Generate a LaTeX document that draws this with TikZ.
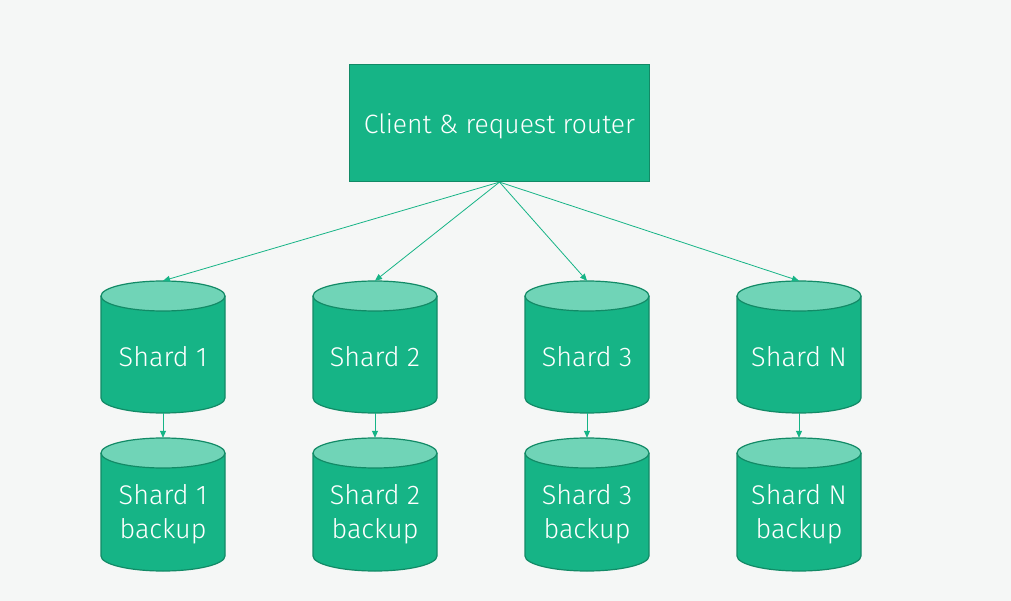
\documentclass[tikz,border=0pt]{standalone}
\usepackage{fontspec}
\setmainfont{Fira Sans Light}
\usetikzlibrary{arrows.meta}
\definecolor{bg}{HTML}{F5F7F6}
\definecolor{fillg}{HTML}{16B486}
\definecolor{endg}{HTML}{70D4B7}
\definecolor{edgeg}{HTML}{128A66}
\newcommand{\dbshape}[3]{% x, top y, bottom y
  \fill[fillg] (#1-62,#2) -- (#1-62,#3) arc[start angle=180,end angle=0,x radius=62,y radius=15] -- (#1+62,#2) -- cycle;
  \draw[edgeg, line width=1.2pt] (#1-62,#2) -- (#1-62,#3) arc[start angle=180,end angle=0,x radius=62,y radius=15] -- (#1+62,#2);
  \draw[edgeg, line width=1.2pt, fill=endg] (#1,#2) ellipse[x radius=62,y radius=15];
}
\tikzset{
  router/.style={draw=edgeg, line width=1.2pt, fill=fillg, minimum width=300pt, minimum height=117pt},
  dbarea/.style={draw=none, minimum width=124pt, inner sep=0pt},
  dbtext/.style={text=white, align=center, font=\fontsize{27}{34}\selectfont},
  conn/.style={draw=fillg, line width=0.8pt, -{Triangle[length=7pt,width=6pt]}}
}
\begin{document}
\begin{tikzpicture}[x=1pt,y=-1pt]
\fill[bg] (0,0) rectangle (1011,601);
\useasboundingbox (0,0) rectangle (1011,601);
\node[router] (r) at (499.5,123) {};
\node[text=white, font=\fontsize{26.5}{30}\selectfont] at (499.5,126) {Client \& request router};
\foreach \n/\x/\t in {1/163/1,2/375/2,3/587/3,4/799/N}{
  \dbshape{\x}{296}{398}
  \node[dbarea, minimum height=132pt] (s\n) at (\x,347) {};
  \node[dbtext] at (\x,357) {Shard \t};
  \dbshape{\x}{453}{556}
  \node[dbarea, minimum height=133pt] (b\n) at (\x,504.5) {};
  \node[dbtext] at (\x,514) {Shard \t\\backup};
  \draw[conn] (s\n.south) -- (b\n.north);
}
\draw[conn] (r.south) -- (s1.north);
\draw[conn] (r.south) -- (s2.north);
\draw[conn] (r.south) -- (s3.north);
\draw[conn] (r.south) -- (s4.north);
\end{tikzpicture}
\end{document}
